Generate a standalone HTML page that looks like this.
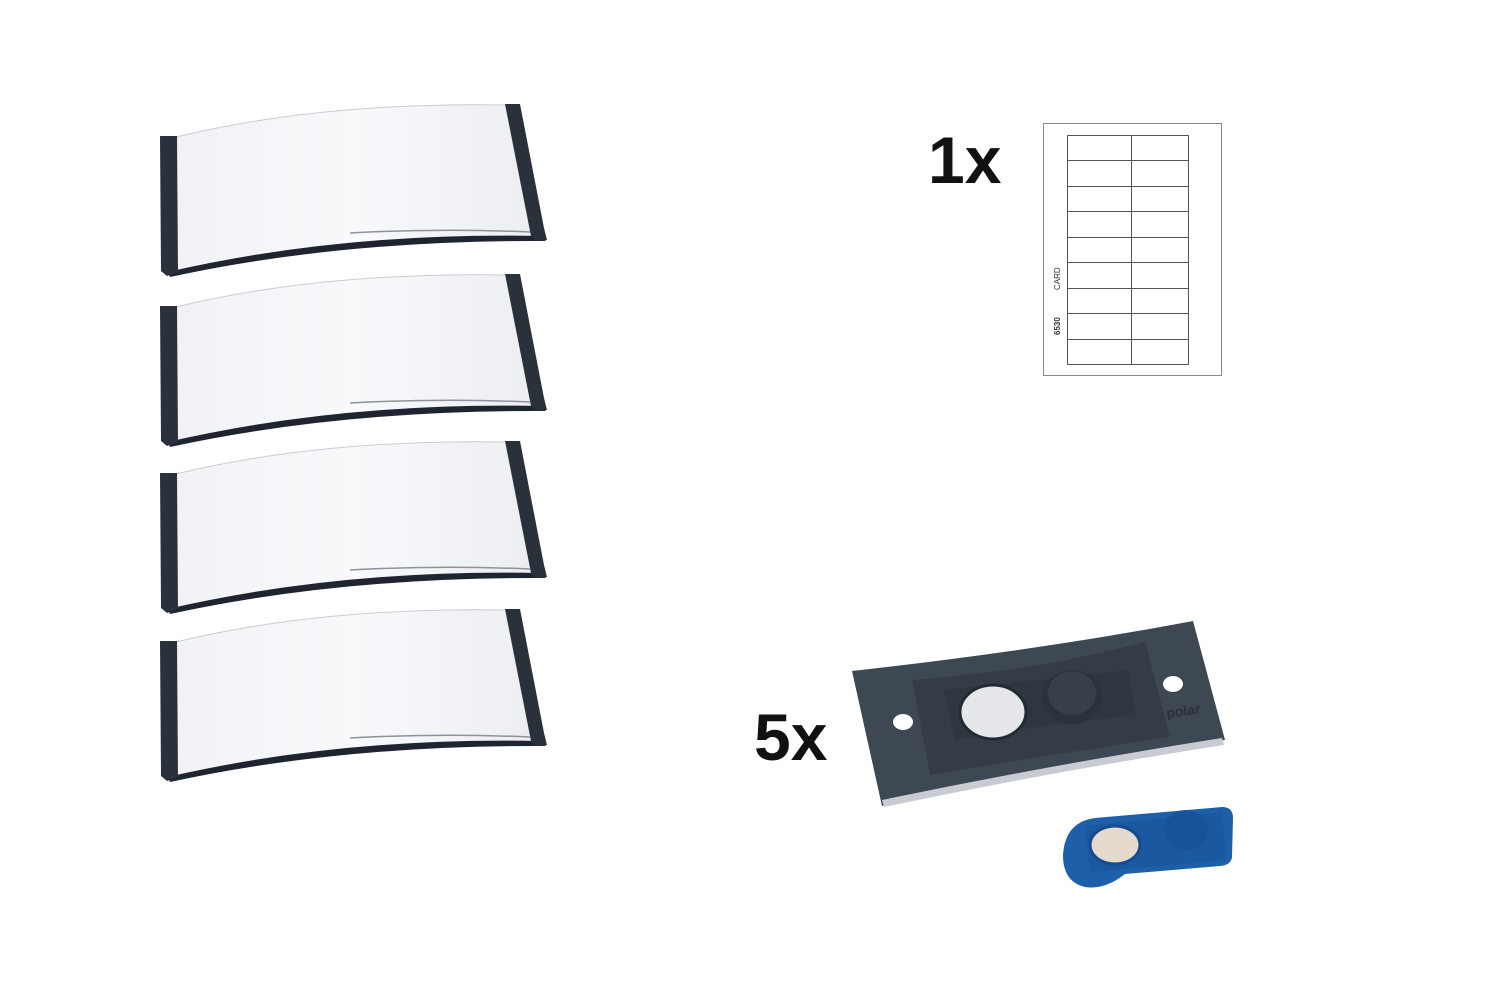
<!DOCTYPE html>
<html><head><meta charset="utf-8"><style>
html,body{margin:0;padding:0;background:#fff;}
svg{display:block}
</style></head><body>
<svg width="1500" height="1002" viewBox="0 0 1500 1002" xmlns="http://www.w3.org/2000/svg">
<defs>
<linearGradient id="gl" x1="0" y1="0" x2="1" y2="0">
<stop offset="0" stop-color="#f1f2f5"/><stop offset="0.5" stop-color="#f8f9fb"/><stop offset="1" stop-color="#eceef2"/>
</linearGradient>
<g id="badge">
<path d="M176,137 Q320,102 507,105 L532,236 Q340,238 176,270 Z" fill="url(#gl)" stroke="#c9ccd3" stroke-width="1"/>
<path d="M168,272 Q340,232 540,236 L546,241 Q340,240 170,277 Z" fill="#1e2430"/>
<path d="M160,136 L177,136 L178,272 L167,276 L161,271 Z" fill="#2b313b"/>
<path d="M505,104 L520,104 L544,228 L547,240 L536,241 L531,236 Z" fill="#2b313b"/>
<path d="M350,233 Q440,228 530,232" stroke="#8d939c" stroke-width="1.5" fill="none"/>
</g>
</defs>
<use href="#badge"/>
<use href="#badge" y="170"/>
<use href="#badge" y="337"/>
<use href="#badge" y="505"/>

<text x="928" y="183" font-family="Liberation Sans, sans-serif" font-weight="bold" font-size="66" fill="#111">1x</text>
<text x="754" y="760" font-family="Liberation Sans, sans-serif" font-weight="bold" font-size="66" fill="#111">5x</text>

<g stroke="#555" fill="none" stroke-width="1">
<rect x="1043.5" y="123.5" width="178" height="252" stroke="#888"/>
<rect x="1067.5" y="135.5" width="121" height="229"/>
<line x1="1131.5" y1="135" x2="1131.5" y2="365"/>
<line x1="1067" y1="160.5" x2="1189" y2="160.5"/>
<line x1="1067" y1="186.5" x2="1189" y2="186.5"/>
<line x1="1067" y1="211.5" x2="1189" y2="211.5"/>
<line x1="1067" y1="237.5" x2="1189" y2="237.5"/>
<line x1="1067" y1="262.5" x2="1189" y2="262.5"/>
<line x1="1067" y1="288.5" x2="1189" y2="288.5"/>
<line x1="1067" y1="313.5" x2="1189" y2="313.5"/>
<line x1="1067" y1="339.5" x2="1189" y2="339.5"/>
</g>
<text x="1060" y="335" transform="rotate(-90 1060 335)" font-family="Liberation Sans, sans-serif" font-size="8" font-weight="bold" fill="#333">6530</text>
<text x="1060" y="290" transform="rotate(-90 1060 290)" font-family="Liberation Sans, sans-serif" font-size="8" fill="#333">CARD</text>

<!-- magnet plate -->
<path d="M852,671 Q1040,650 1193,621 L1225,740 Q1050,770 882,806 Z" fill="#3e4852"/>
<path d="M882,800 Q1050,765 1222,738 L1224,745 Q1050,772 884,807 Z" fill="#c8ccd2"/>
<path d="M912,680 Q1040,670 1145,642 L1170,737 Q1050,755 930,775 Z" fill="#343d47"/>
<path d="M944,690 Q1040,680 1128,670 L1135,715 Q1040,725 955,740 Z" fill="#2e3640"/>
<ellipse cx="993" cy="712" rx="33" ry="27" fill="#e4e6ea" stroke="#222a33" stroke-width="3"/>
<ellipse cx="1072" cy="697" rx="30" ry="27" fill="#2a323b"/>
<ellipse cx="1072" cy="693" rx="24" ry="22" fill="#37404a"/>
<ellipse cx="903" cy="722" rx="10" ry="8" fill="#fff"/>
<ellipse cx="1173" cy="684" rx="10" ry="8" fill="#fff"/>
<text x="1167" y="718" font-family="Liberation Sans, sans-serif" font-weight="bold" font-size="14" fill="#2a313a" transform="rotate(-8 1167 718)">polar</text>
<!-- blue clip -->
<path d="M1095,818 L1222,807 Q1233,807 1233,818 L1232,857 Q1231,865 1220,866 L1125,874 Q1105,890 1085,887 Q1063,882 1063,855 Q1065,822 1095,818 Z" fill="#1d5fa8"/>
<path d="M1085,826 L1222,812 L1226,860 L1090,872 Z" fill="#1a58a0"/>
<ellipse cx="1186" cy="830" rx="22" ry="20" fill="#17539a"/>
<ellipse cx="1115" cy="845" rx="25" ry="19" fill="#e6d9cd" stroke="#154c8f" stroke-width="3"/>
</svg>
</body></html>
